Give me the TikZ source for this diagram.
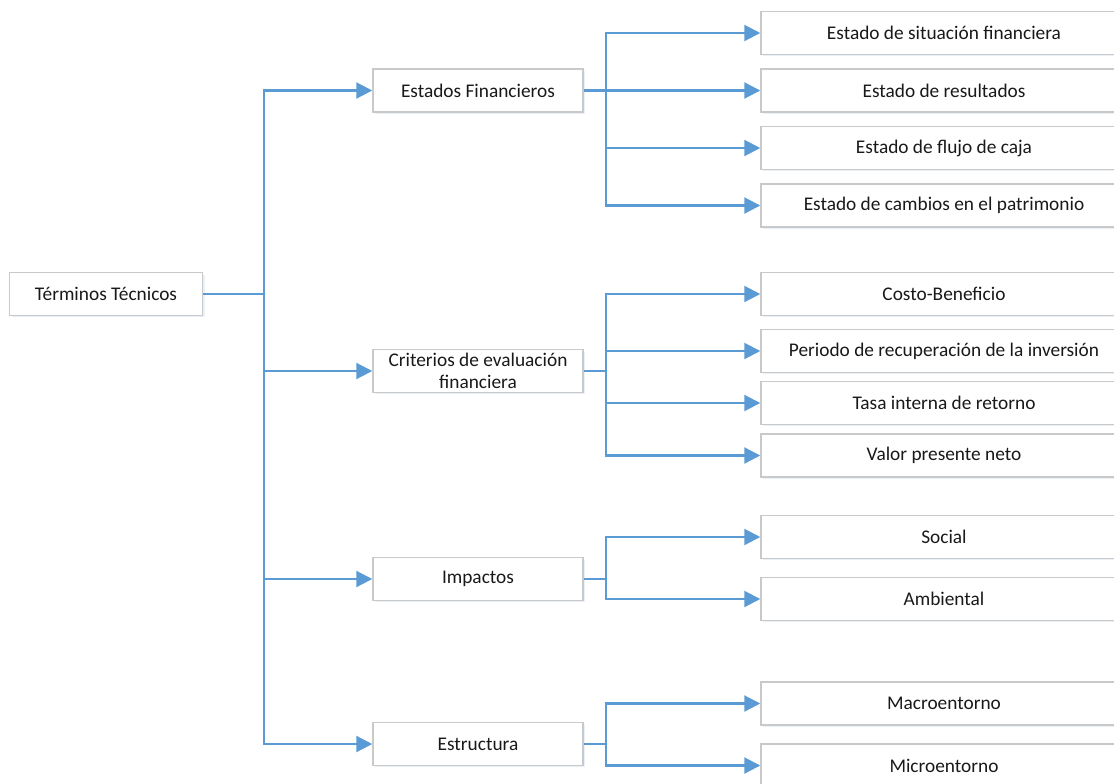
\documentclass[tikz,border=0pt]{standalone}
\usepackage{fontspec}
\setmainfont{Carlito}
\usetikzlibrary{arrows.meta,shadows}
\definecolor{conn}{HTML}{5B9BD5}
\definecolor{boxline}{HTML}{C9C9C9}
\definecolor{shade}{HTML}{E9F0F8}
\begin{document}
\begin{tikzpicture}[x=0.75pt,y=-0.75pt,
  box/.style={draw=boxline,line width=1.1pt,fill=white,rectangle,
    minimum height=32pt,inner sep=0pt,align=center,
    font=\fontsize{14.5}{17}\selectfont,text=black!90,
    drop shadow={shadow xshift=1.5pt,shadow yshift=-1.5pt,fill=shade,opacity=1}},
  lvlone/.style={box,minimum width=144.75pt},
  lvltwo/.style={box,minimum width=157.5pt},
  lvlthree/.style={box,minimum width=274.5pt},
  wire/.style={draw=conn,line width=1.6pt},
  arr/.style={wire,-{Triangle[length=12pt,width=12pt]}}]
\useasboundingbox (0,0) rectangle (1114,783);
\fill[white] (0,0) rectangle (1114,783);
\begin{scope}
\clip (0,0) rectangle (1114,783);
% level 1
\node[lvlone] (t) at (106,294) {Términos Técnicos};
% level 2
\node[lvltwo] (b1) at (478,90.5) {Estados Financieros};
\node[lvltwo] (b2) at (478,371) {Criterios de evaluación\\financiera};
\node[lvltwo] (b3) at (478,579) {Impactos};
\node[lvltwo] (b4) at (478,744) {Estructura};
% level 3
\node[lvlthree] (c11) at (944,33) {Estado de situación financiera};
\node[lvlthree] (c12) at (944,90.5) {Estado de resultados};
\node[lvlthree] (c13) at (944,148) {Estado de flujo de caja};
\node[lvlthree] (c14) at (944,205.5) {Estado de cambios en el patrimonio};
\node[lvlthree] (c21) at (944,294) {Costo-Beneficio};
\node[lvlthree] (c22) at (944,351) {Periodo de recuperación de la inversión};
\node[lvlthree] (c23) at (944,403) {Tasa interna de retorno};
\node[lvlthree] (c24) at (944,455.5) {Valor presente neto};
\node[lvlthree] (c31) at (944,537) {Social};
\node[lvlthree] (c32) at (944,599) {Ambiental};
\node[lvlthree] (c41) at (944,703.5) {Macroentorno};
\node[lvlthree] (c42) at (944,765.5) {Microentorno};
% junctions
\coordinate (tj) at (264,294);
\coordinate (j1) at (606,90.5);
\coordinate (j2) at (606,371);
\coordinate (j3) at (606,579);
\coordinate (j4) at (606,744);
% connectors
\draw[wire] (t.east) -- (tj);
\foreach \b in {b1,b2,b3,b4} \draw[arr] (tj) |- (\b.west);
\draw[wire] (b1.east) -- (j1);
\foreach \c in {c11,c12,c13,c14} \draw[arr] (j1) |- (\c.west);
\draw[wire] (b2.east) -- (j2);
\foreach \c in {c21,c22,c23,c24} \draw[arr] (j2) |- (\c.west);
\draw[wire] (b3.east) -- (j3);
\foreach \c in {c31,c32} \draw[arr] (j3) |- (\c.west);
\draw[wire] (b4.east) -- (j4);
\foreach \c in {c41,c42} \draw[arr] (j4) |- (\c.west);
\end{scope}
\end{tikzpicture}
\end{document}
